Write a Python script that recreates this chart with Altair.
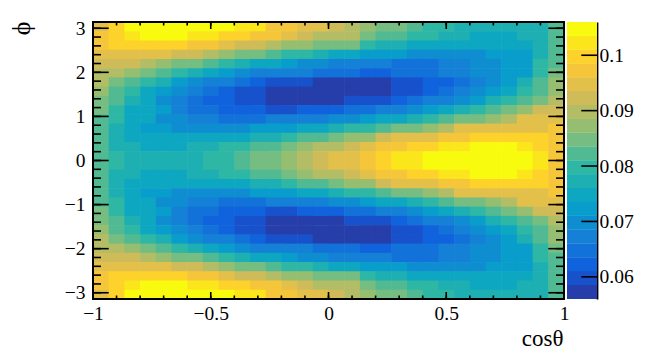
import altair as alt
import numpy as np
import pandas as pd

# colour level (0-19) of each 2D bin, top half, phi from +pi down to 0
top_rows = [
 [15,17,19,19,19,19,19,19,19,18,18,16,16,15,15,14,13,12,11,11,10,9,9,8,8,8,8,8,8,10],
 [16,17,18,19,19,19,18,18,17,17,16,16,15,14,13,13,13,11,10,10,9,9,8,8,7,7,7,8,8,10],
 [16,17,17,17,17,17,16,16,15,14,14,13,12,12,11,11,11,9,8,8,7,7,7,7,7,7,7,7,8,10],
 [15,15,15,15,15,14,14,13,12,11,11,10,9,9,8,7,7,6,6,6,5,5,5,5,5,6,6,6,8,10],
 [14,14,14,13,12,11,11,10,9,8,7,7,6,5,5,4,4,4,4,3,3,3,4,4,5,5,6,6,9,10],
 [13,13,12,11,10,9,8,7,6,5,4,4,4,4,3,3,3,2,2,3,3,3,4,4,5,5,6,6,9,11],
 [13,11,10,9,8,6,5,4,4,3,2,1,1,1,0,0,0,0,0,1,1,2,2,3,4,5,6,8,10,12],
 [12,10,9,7,6,5,4,3,2,1,1,0,0,0,0,0,0,0,0,1,1,2,3,4,5,6,7,9,10,12],
 [11,10,8,7,5,4,3,2,2,1,1,0,0,0,0,0,1,1,1,2,3,4,4,5,6,8,9,10,11,13],
 [11,9,7,7,6,4,3,3,2,2,2,1,1,2,2,2,3,3,4,4,5,6,7,8,9,10,11,12,14,14],
 [10,9,7,7,5,5,4,4,3,3,3,4,4,4,4,5,5,6,7,7,8,9,10,11,11,12,13,15,15,15],
 [10,8,7,6,6,5,5,5,5,5,6,6,6,7,7,8,9,9,10,11,11,12,13,15,15,15,15,15,15,16],
 [10,8,7,7,7,7,7,7,7,7,8,8,9,10,10,11,12,12,14,15,15,15,16,16,17,17,17,17,17,16],
 [10,8,8,7,7,7,8,8,9,9,10,10,11,12,13,13,14,15,16,16,17,17,18,18,19,19,19,18,17,16],
 [10,9,8,8,8,8,8,9,9,10,11,11,12,13,14,15,15,16,17,18,18,19,19,19,19,19,19,19,18,16],
]
rows = top_rows + top_rows[::-1]

z_low, z_high, n_levels = 0.056, 0.106, 20
bird_r = [0.2082,0.0592,0.0780,0.0232,0.1802,0.5301,0.8186,0.9956,0.9764]
bird_g = [0.1664,0.3599,0.5041,0.6419,0.7178,0.7492,0.7328,0.7862,0.9832]
bird_b = [0.5293,0.8684,0.8385,0.7914,0.6425,0.4662,0.3499,0.1968,0.0539]
stops = np.linspace(0, 1, 9)
palette = []
for i in range(n_levels):
    t = (i + 0.99) / n_levels
    c = [int(round(255 * np.interp(t, stops, s))) for s in (bird_r, bird_g, bird_b)]
    palette.append("#%02x%02x%02x" % tuple(c))

step = (z_high - z_low) / n_levels
edges = [z_low + step * i for i in range(n_levels + 1)]
color_scale = alt.Scale(type="threshold", domain=edges[1:-1], range=palette)

x_edges = np.linspace(-1, 1, 31)
y_edges = np.linspace(np.pi, -np.pi, 31)
x_lap, y_lap = 0.0025, 0.0136   # slight overlap, so no seams show between cells
recs = []
for r, row in enumerate(rows):
    for c, lv in enumerate(row):
        recs.append(dict(x=x_edges[c], x2=x_edges[c+1] + (x_lap if c < 29 else 0),
                         y=y_edges[r], y2=y_edges[r+1] - (y_lap if r < 29 else 0),
                         z=z_low + step * (lv + 0.5)))
cells = pd.DataFrame(recs)

W, H, CBW = 471, 277, 30
FONT = "Liberation Serif"
LW = 1.6
x_scale = alt.Scale(domain=[-1, 1], nice=False, zero=False)
y_scale = alt.Scale(domain=[-np.pi, np.pi], nice=False, zero=False)

x_major = [-1, -0.5, 0, 0.5, 1]
y_major = [-3, -2, -1, 0, 1, 2, 3]
x_minor = [round(-0.9 + 0.1 * i, 1) for i in range(19)]
y_minor = [round(-3.0 + 0.2 * i, 1) for i in range(31)]
cb_major = [0.06, 0.07, 0.08, 0.09, 0.1]

x_axis = alt.Axis(
    values=x_major, ticks=False, domain=False, grid=False,
    labelFont=FONT, labelFontSize=19.5, labelColor="black", labelPadding=5,
    labelExpr="replace(format(datum.value, '~g'), '-', '\u2212')",
    labelFlush=False, labelOverlap=False,
    title="cos\u03b8", titleFont=FONT, titleFontSize=23, titleFontWeight="normal",
    titleColor="black", titleAnchor="end", titleAlign="right", titleBaseline="alphabetic",
    titleX=W - 1, titleY=46)
y_axis = alt.Axis(
    values=y_major, ticks=False, domain=False, grid=False,
    labelFont=FONT, labelFontSize=19.5, labelColor="black", labelPadding=8,
    labelExpr="replace(format(datum.value, '~g'), '-', '\u2212')",
    labelFlush=False, labelOverlap=False,
    title="\u03d5", titleFont=FONT, titleFontSize=26, titleFontWeight="normal",
    titleColor="black", titleAnchor="start", titleAlign="center", titleBaseline="middle",
    titleX=-72, titleY=6)
X = lambda f: alt.X(f, scale=x_scale, axis=x_axis)
Y = lambda f: alt.Y(f, scale=y_scale, axis=y_axis)

heat = alt.Chart(cells).mark_rect().encode(
    x=X("x:Q"), x2="x2:Q", y=Y("y:Q"), y2="y2:Q",
    color=alt.Color("z:Q", scale=color_scale, legend=None),
)

def xticks(vals, length, size):
    d = pd.DataFrame({"v": vals})
    base = alt.Chart(d).mark_rule(color="black", strokeWidth=size)
    a = base.encode(x=X("v:Q"), y=alt.value(0), y2=alt.value(length))
    b = base.encode(x=X("v:Q"), y=alt.value(H - length), y2=alt.value(H))
    return a + b

def yticks(vals, length, size):
    d = pd.DataFrame({"v": vals})
    base = alt.Chart(d).mark_rule(color="black", strokeWidth=size)
    a = base.encode(y=Y("v:Q"), x=alt.value(0), x2=alt.value(length))
    b = base.encode(y=Y("v:Q"), x=alt.value(W - length), x2=alt.value(W))
    return a + b

frame = alt.Chart(pd.DataFrame({"a": [-1], "b": [1], "c": [-np.pi], "d": [np.pi]})).mark_rect(
    fill=None, stroke="black", strokeWidth=LW + 0.4).encode(
    x=X("a:Q"), x2="b:Q", y=Y("c:Q"), y2="d:Q")

main = alt.layer(
    heat,
    xticks(x_minor, 3.5, LW), xticks(x_major, 7, LW),
    yticks(y_minor, 8, LW), yticks(y_major, 15.7, LW),
    frame,
).properties(width=W, height=H)

cb_scale = alt.Scale(domain=[z_low, z_high], nice=False, zero=False)
cb_axis = alt.Axis(
    orient="right", values=cb_major, ticks=False, grid=False, title=None,
    domain=True, domainColor="black", domainWidth=LW + 0.2,
    labelFont=FONT, labelFontSize=19.5, labelColor="black", labelPadding=2,
    labelExpr="format(datum.value, '~g')",
    labelFlush=False, labelOverlap=False)
bar_df = pd.DataFrame({"lo": edges[:-1], "hi": [e + step + (0.00005 if e < edges[-2] - 1e-9 else 0) for e in edges[:-1]],
                       "z": [e + step / 2 for e in edges[:-1]]})
bar = alt.Chart(bar_df).mark_rect().encode(
    x=alt.value(0), x2=alt.value(CBW),
    y=alt.Y("lo:Q", scale=cb_scale, axis=cb_axis),
    y2="hi:Q",
    color=alt.Color("z:Q", scale=color_scale, legend=None),
)
cb_ticks = alt.Chart(pd.DataFrame({"v": cb_major})).mark_rule(color="black", strokeWidth=LW).encode(
    y=alt.Y("v:Q", scale=cb_scale, axis=cb_axis),
    x=alt.value(CBW - 15.7), x2=alt.value(CBW))
colorbar = alt.layer(bar, cb_ticks).properties(width=CBW, height=H)

chart = alt.hconcat(main, colorbar, spacing=3, bounds="flush").resolve_scale(color="independent").properties(
    padding={"left": 0, "top": 10, "right": 0, "bottom": 0},
    background="white",
).configure_view(stroke=None)

chart.save("out.html", embed_options={"renderer": "svg", "actions": False})
